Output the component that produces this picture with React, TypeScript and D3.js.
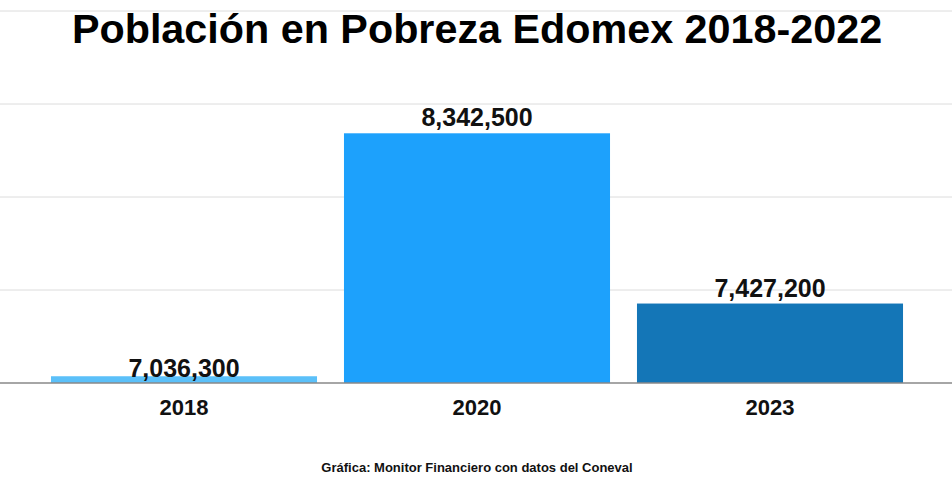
import React from "react";
import * as d3 from "d3";

const categories = ["2018", "2020", "2023"];
const values = [7036300, 8342500, 7427200];
const barColors = ["#5BC0F9", "#1DA1FC", "#1476B7"];
const yTicks = [7000000, 7500000, 8000000, 8500000, 9000000];
const title = "Población en Pobreza Edomex 2018-2022";
const source = "Gráfica: Monitor Financiero con datos del Coneval";

const W = 952;
const H = 483;
const FONT = "'Liberation Sans', Arial, sans-serif";

export default function App() {
  const x = d3
    .scaleBand<string>()
    .domain(categories)
    .range([37.5, 916.5])
    .paddingInner(0.092)
    .paddingOuter(0.046);
  const y = d3.scaleLinear().domain([7000000, 9000000]).range([383, 11]);
  const fmt = d3.format(",");
  const base = y(7000000);

  return (
    <svg
      width={W}
      height={H}
      style={{ position: "absolute", left: 0, top: 0, background: "#fff" }}
      fontFamily={FONT}
    >
      {yTicks.slice(1).map((t) => (
        <line key={t} x1={0} x2={W} y1={y(t)} y2={y(t)} stroke="#DCDCDC" strokeWidth={1} />
      ))}
      {categories.map((c, i) => (
        <rect
          key={c}
          x={x(c)}
          y={y(values[i])}
          width={x.bandwidth()}
          height={base - y(values[i])}
          fill={barColors[i]}
        />
      ))}
      <line x1={0} x2={W} y1={base} y2={base} stroke="#888" strokeWidth={1.3} />
      {categories.map((c, i) => {
        const top = y(values[i]);
        const ly = base - top < 20 ? top + 1 : top - 7;
        return (
          <text
            key={"v" + c}
            x={(x(c) ?? 0) + x.bandwidth() / 2}
            y={ly}
            textAnchor="middle"
            fontWeight="bold"
            fontSize={25}
            fill="#111"
          >
            {fmt(values[i])}
          </text>
        );
      })}
      {categories.map((c) => (
        <text
          key={"x" + c}
          x={(x(c) ?? 0) + x.bandwidth() / 2}
          y={415}
          textAnchor="middle"
          fontWeight="bold"
          fontSize={22}
          fill="#111"
        >
          {c}
        </text>
      ))}
      <text x={477} y={43} textAnchor="middle" fontWeight="bold" fontSize={41.3} fill="#000">
        {title}
      </text>
      <text x={477} y={472} textAnchor="middle" fontWeight="bold" fontSize={13} fill="#111">
        {source}
      </text>
    </svg>
  );
}
